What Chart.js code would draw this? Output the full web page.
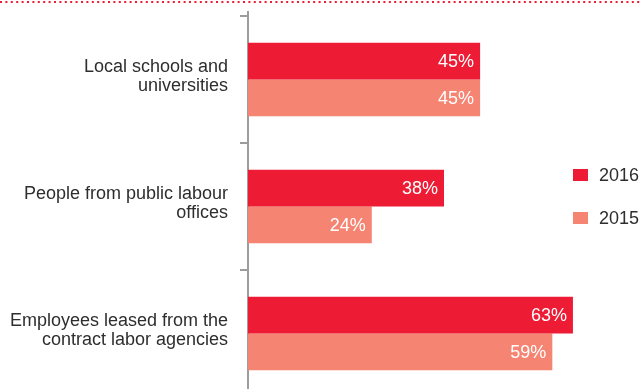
<!DOCTYPE html>
<html>
<head>
<meta charset="utf-8">
<script src="https://cdn.jsdelivr.net/npm/chart.js@4.4.0/dist/chart.umd.min.js"></script>
<style>
  html, body { margin: 0; padding: 0; overflow: hidden; background: #fff; }
  canvas { display: block; }
</style>
</head>
<body>
<canvas id="sourcesChart" width="640" height="397"></canvas>
<script>
const categories = [
  ["Local schools and", "universities"],
  ["People from public labour", "offices"],
  ["Employees leased from the", "contract labor agencies"],
];
const years = ["2016", "2015"];
const values2016 = [45, 38, 63];
const values2015 = [45, 24, 59];
const yearColors = ["#ed1b34", "#f58473"];

const FONT = "'Liberation Sans', Arial, Helvetica, sans-serif";
const AXIS_GREY = "#9c9c9c";
const TEXT_DARK = "#2e2e2e";

// dotted rule across the top + short stub of the axis above the first tick
const decorations = {
  id: "decorations",
  afterDraw(chart) {
    const ctx = chart.ctx;
    const { left, top } = chart.chartArea;
    ctx.save();
    ctx.strokeStyle = "#ed1b34";
    ctx.lineWidth = 2;
    ctx.setLineDash([2, 3.4]);
    ctx.beginPath();
    ctx.moveTo(0, 2);
    ctx.lineTo(chart.width, 2);
    ctx.stroke();
    ctx.setLineDash([]);
    ctx.strokeStyle = AXIS_GREY;
    ctx.beginPath();
    ctx.moveTo(left, top - 5);
    ctx.lineTo(left, top);
    ctx.stroke();
    ctx.restore();
  }
};

// percentage written inside the end of each bar
const valueLabels = {
  id: "valueLabels",
  afterDatasetsDraw(chart) {
    const ctx = chart.ctx;
    ctx.save();
    ctx.font = "18px " + FONT;
    ctx.fillStyle = "#ffffff";
    ctx.textAlign = "right";
    ctx.textBaseline = "middle";
    chart.data.datasets.forEach((ds, i) => {
      chart.getDatasetMeta(i).data.forEach((bar, j) => {
        ctx.fillText(ds.data[j] + "%", bar.x - 6, bar.y + 1);
      });
    });
    ctx.restore();
  }
};

// legend on the right side, stacked vertically
const sideLegend = {
  id: "sideLegend",
  afterDraw(chart) {
    const ctx = chart.ctx;
    ctx.save();
    ctx.font = "18px " + FONT;
    ctx.textAlign = "left";
    ctx.textBaseline = "middle";
    chart.data.datasets.forEach((ds, i) => {
      const y = 169 + i * 43;
      ctx.fillStyle = ds.backgroundColor;
      ctx.fillRect(573, y, 15, 12);
      ctx.fillStyle = TEXT_DARK;
      ctx.fillText(ds.label, 599, y + 7);
    });
    ctx.restore();
  }
};

new Chart(document.getElementById("sourcesChart"), {
  type: "bar",
  data: {
    labels: categories,
    datasets: [
      {
        label: years[0],
        data: values2016,
        backgroundColor: yearColors[0],
      },
      {
        label: years[1],
        data: values2015,
        backgroundColor: yearColors[1],
      },
    ]
  },
  options: {
    indexAxis: "y",
    responsive: false,
    animation: false,
    events: [],
    layout: {
      padding: { top: 16, right: 0, bottom: 0, left: 0 }
    },
    datasets: {
      bar: {
        categoryPercentage: 0.578,
        barPercentage: 1.0,
      }
    },
    scales: {
      x: {
        display: false,
        min: 0,
        max: 76,
      },
      y: {
        // fixed axis width, and no extra room reserved for the label heights
        afterFit: (scale) => {
          scale.width = 248;
          scale.paddingTop = 0;
          scale.paddingBottom = 0;
        },
        border: {
          color: AXIS_GREY,
          width: 2,
        },
        grid: {
          offset: true,
          drawOnChartArea: false,
          tickLength: 8,
          color: AXIS_GREY,
          lineWidth: 2,
        },
        ticks: {
          padding: 12,
          labelOffset: -3,
          color: TEXT_DARK,
          font: {
            family: FONT,
            size: 18,
            lineHeight: 1.1,
          }
        }
      }
    },
    plugins: {
      legend: { display: false },
      tooltip: { enabled: false },
    }
  },
  plugins: [decorations, valueLabels, sideLegend],
});
</script>
</body>
</html>
